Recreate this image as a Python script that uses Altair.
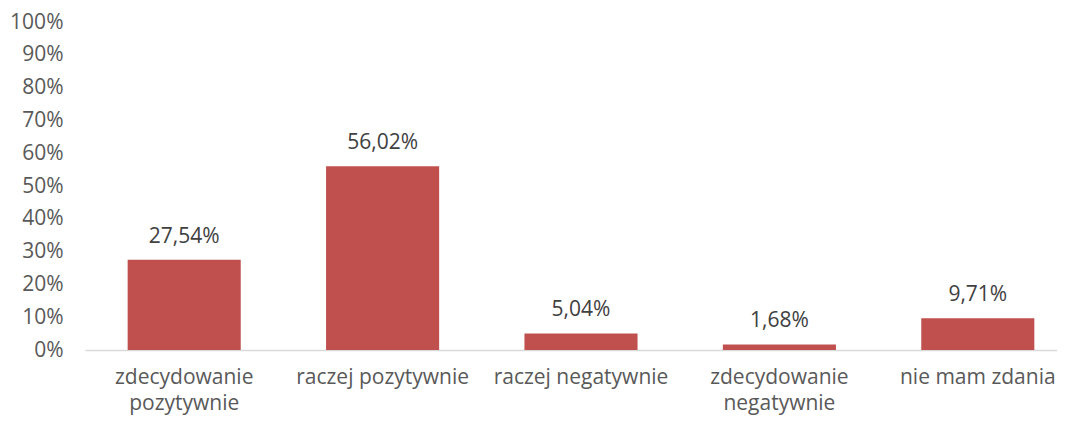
import altair as alt
import pandas as pd

categories = ["zdecydowanie\npozytywnie", "raczej pozytywnie", "raczej negatywnie",
              "zdecydowanie\nnegatywnie", "nie mam zdania"]
values = [27.54, 56.02, 5.04, 1.68, 9.71]
labels = ["27,54%", "56,02%", "5,04%", "1,68%", "9,71%"]
y_ticks = [0, 10, 20, 30, 40, 50, 60, 70, 80, 90, 100]

df = pd.DataFrame({"cat": categories, "val": values, "lab": labels})

FONT = "Open Sans"
GREY = "#595959"

x = alt.X("cat:N", sort=categories, title=None,
          scale=alt.Scale(paddingInner=0.43, paddingOuter=0.215),
          axis=alt.Axis(labelAngle=0, labelExpr="split(datum.label, '\\n')",
                        labelLineHeight=26, labelFontSize=21, labelFont=FONT,
                        labelColor=GREY, labelPadding=33, labelBaseline="alphabetic",
                        ticks=False, labelOverlap=False,
                        domainColor="#D9D9D9", domainWidth=1.5, labelLimit=300))
y = alt.Y("val:Q", title=None,
          scale=alt.Scale(domain=[0, 100], nice=False),
          axis=alt.Axis(values=y_ticks, labelExpr="datum.value + '%'", grid=False,
                        domain=False, ticks=False, labelFontSize=21, labelFont=FONT,
                        labelColor=GREY, labelPadding=22, labelOverlap=False,
                        labelBound=False, labelFlush=False))

base = alt.Chart(df).encode(x=x, y=y)
bars = base.mark_bar(color="#C0504D")
text = base.mark_text(baseline="alphabetic", dy=-17, fontSize=21,
                      font=FONT, color="#404040").encode(text="lab:N")

chart = alt.layer(bars, text).properties(
    width=992, height=328,
    autosize=alt.AutoSizeParams(type="none"),
    padding={"left": 77, "top": 14, "right": -20, "bottom": 65},
).configure_view(stroke=None)

chart.save("out.html", embed_options={"renderer": "svg", "actions": False})
